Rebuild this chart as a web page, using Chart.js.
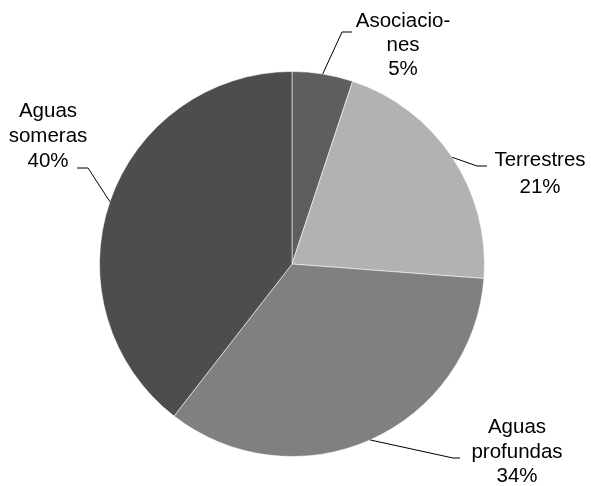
<!DOCTYPE html>
<html>
<head>
<meta charset="utf-8">
<script src="https://cdn.jsdelivr.net/npm/chart.js@4/dist/chart.umd.min.js"></script>
<style>
  body { margin: 0; background: #fff; }
  #wrap { width: 591px; height: 486px; }
</style>
</head>
<body>
<div id="wrap"><canvas id="pieChart" width="591" height="486"></canvas></div>
<script>
// Chart data
const categories = ['Asociaciones', 'Terrestres', 'Aguas profundas', 'Aguas someras'];
const shares = [5.1, 21.1, 34.3, 39.5];
const labelLines = [
  ['Asociacio-', 'nes'],
  ['Terrestres'],
  ['Aguas', 'profundas'],
  ['Aguas', 'someras']
];
const sliceColors = ['#5e5e5e', '#b2b2b2', '#808080', '#4d4d4d'];

// where each label sits and where its leader line bends
const labelLayout = [
  { cx: 403, y: 27, lh: 24, elbow: [342, 32], end: [352, 32] },
  { cx: 540, y: 166, lh: 27, elbow: [477, 166], end: [487, 166] },
  { cx: 517, y: 433, lh: 24.5, elbow: [453, 458], end: [460, 458] },
  { cx: 48, y: 117, lh: 25, elbow: [88, 168], end: [77, 168] }
];

const leaderLabels = {
  id: 'leaderLabels',
  afterDraw(chart) {
    const ctx = chart.ctx;
    const meta = chart.getDatasetMeta(0);
    ctx.save();
    ctx.font = '20.5px "Liberation Sans", Arial, sans-serif';
    ctx.fillStyle = '#000';
    ctx.strokeStyle = '#000';
    ctx.lineWidth = 1;
    ctx.textAlign = 'center';
    ctx.textBaseline = 'alphabetic';

    meta.data.forEach((arc, i) => {
      const { x, y, startAngle, endAngle, outerRadius } = arc.getProps(['x', 'y', 'startAngle', 'endAngle', 'outerRadius'], true);
      const mid = (startAngle + endAngle) / 2;
      const ax = x + Math.cos(mid) * outerRadius;
      const ay = y + Math.sin(mid) * outerRadius;
      const lay = labelLayout[i];

      ctx.beginPath();
      ctx.moveTo(ax, ay);
      ctx.lineTo(lay.elbow[0], lay.elbow[1]);
      ctx.lineTo(lay.end[0], lay.end[1]);
      ctx.stroke();

      const lines = labelLines[i].concat([Math.round(shares[i]) + '%']);
      lines.forEach((t, k) => {
        ctx.fillText(t, lay.cx, lay.y + k * lay.lh);
      });
    });
    ctx.restore();
  }
};

const ctx = document.getElementById('pieChart').getContext('2d');
new Chart(ctx, {
  type: 'pie',
  data: {
    labels: categories,
    datasets: [{
      data: shares,
      backgroundColor: sliceColors,
      borderColor: 'rgba(255,255,255,0.55)',
      borderWidth: 1
    }]
  },
  options: {
    responsive: false,
    animation: false,
    layout: { padding: { top: 71, bottom: 29, left: 99, right: 106 } },
    plugins: {
      legend: { display: false },
      tooltip: { enabled: false }
    }
  },
  plugins: [leaderLabels]
});
</script>
</body>
</html>
